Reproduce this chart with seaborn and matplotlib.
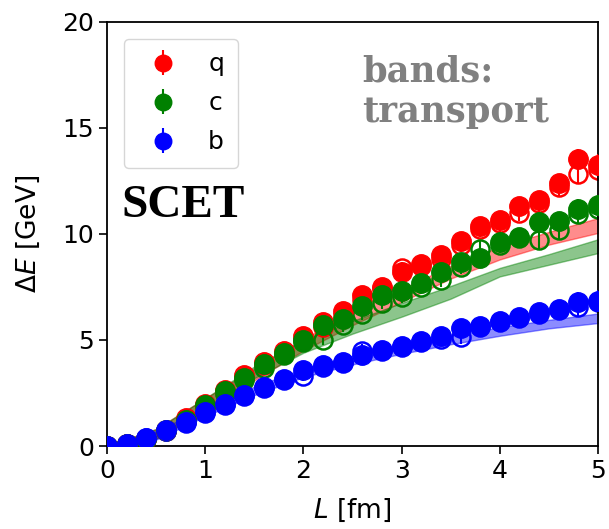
import numpy as np
import pandas as pd
import matplotlib
matplotlib.use("Agg")
import matplotlib.pyplot as plt
import seaborn as sns

# ---- data ----
L = [0.0, 0.2, 0.4, 0.6, 0.8, 1.0, 1.2, 1.4, 1.6, 1.8, 2.0, 2.2, 2.4,
     2.6, 2.8, 3.0, 3.2, 3.4, 3.6, 3.8, 4.0, 4.2, 4.4, 4.6, 4.8, 5.0]

q_scet = [0.0, 0.1, 0.35, 0.75, 1.3, 2.0, 2.65, 3.35, 3.95, 4.5, 5.2, 5.85, 6.35,
          7.1, 7.5, 8.2, 8.6, 9.0, 9.65, 10.4, 10.65, 11.3, 11.6, 12.4, 13.55, 13.25]
c_scet = [0.0, 0.1, 0.35, 0.75, 1.25, 1.95, 2.6, 3.2, 3.85, 4.4, 5.0, 5.7, 6.0,
          6.6, 7.1, 7.3, 7.7, 8.2, 8.7, 8.85, 9.6, 9.85, 10.55, 10.6, 11.2, 11.35]
b_scet = [0.0, 0.1, 0.4, 0.75, 1.15, 1.6, 2.0, 2.4, 2.8, 3.15, 3.6, 3.8, 3.95,
          4.3, 4.55, 4.7, 4.95, 5.2, 5.55, 5.65, 5.9, 6.1, 6.3, 6.45, 6.8, 6.85]

q_alt = [0.0, 0.1, 0.35, 0.7, 1.2, 1.85, 2.5, 3.2, 3.8, 4.35, 5.0, 5.6, 6.2,
         6.9, 7.4, 8.4, 8.5, 8.8, 9.5, 10.25, 10.5, 11.0, 11.45, 12.2, 12.85, 13.0]
c_alt = [0.0, 0.1, 0.35, 0.7, 1.2, 1.85, 2.45, 3.1, 3.7, 4.3, 4.9, 5.0, 5.7,
         6.25, 6.75, 7.05, 7.5, 7.85, 8.45, 9.3, 9.5, 9.8, 9.7, 10.2, 10.95, 11.2]
b_alt = [0.0, 0.1, 0.4, 0.7, 1.1, 1.55, 1.95, 2.35, 2.75, 3.1, 3.3, 3.75, 3.9,
         4.5, 4.5, 4.65, 4.9, 5.05, 5.15, 5.6, 5.85, 6.05, 6.25, 6.4, 6.55, 6.8]

err = [0.05, 0.05, 0.1, 0.1, 0.15, 0.15, 0.2, 0.2, 0.2, 0.25, 0.25, 0.25, 0.3,
       0.3, 0.3, 0.3, 0.35, 0.35, 0.35, 0.4, 0.4, 0.4, 0.45, 0.45, 0.45, 0.5]

L_band = [0.0, 0.5, 1.0, 1.5, 2.0, 2.5, 3.0, 3.5, 4.0, 4.5, 5.0]
q_band_lo = [0.0, 0.35, 1.7, 3.1, 4.5, 5.7, 6.8, 7.9, 8.8, 9.5, 10.05]
q_band_hi = [0.0, 0.8, 2.25, 3.65, 5.05, 6.3, 7.4, 8.5, 9.4, 10.1, 10.75]
c_band_lo = [0.0, 0.35, 1.75, 3.2, 4.4, 5.3, 6.1, 6.95, 8.0, 8.55, 9.1]
c_band_hi = [0.0, 0.8, 2.25, 3.75, 5.0, 5.9, 6.75, 7.55, 8.4, 9.05, 9.75]
b_band_lo = [0.0, 0.3, 1.4, 2.4, 3.25, 3.85, 4.35, 4.8, 5.2, 5.55, 5.8]
b_band_hi = [0.0, 0.7, 1.8, 2.8, 3.65, 4.25, 4.75, 5.2, 5.6, 5.95, 6.25]

labels = ["q", "c", "b"]
colors = ["red", "green", "blue"]

# ---- plotting ----
sns.set_style("ticks")
plt.rcParams["font.family"] = ["DejaVu Sans"]
plt.rcParams["text.color"] = "black"
plt.rcParams["axes.labelcolor"] = "black"
plt.rcParams["xtick.color"] = "black"
plt.rcParams["ytick.color"] = "black"

fig = plt.figure(figsize=(6.09, 5.29), dpi=100)
ax = fig.add_axes([107 / 609, 1 - 446 / 529, (598 - 107) / 609, (446 - 22) / 529])

bands = [(q_band_lo, q_band_hi), (c_band_lo, c_band_hi), (b_band_lo, b_band_hi)]
for (lo, hi), col in zip(bands, colors):
    ax.fill_between(L_band, lo, hi, color=col, alpha=0.45, lw=1.0, zorder=1)

for vals, col in zip([q_alt, c_alt, b_alt], colors):
    ax.errorbar(L, vals, yerr=err, fmt="o", ms=13, mfc="none", mec=col,
                mew=1.8, color=col, elinewidth=1.5, zorder=2)

for vals, col, lab in zip([q_scet, c_scet, b_scet], colors, labels):
    ax.errorbar(L, vals, yerr=err, fmt="o", ms=14, color=col,
                elinewidth=1.5, label=lab, zorder=3)

ax.set_xlim(0, 5)
ax.set_ylim(0, 20)
ax.set_xticks([0, 1, 2, 3, 4, 5])
ax.set_yticks([0, 5, 10, 15, 20])
ax.tick_params(labelsize=18, length=6, width=1.2, color="black", labelcolor="black")
for s in ax.spines.values():
    s.set_color("black")
    s.set_linewidth(1.3)
ax.set_xlabel("$L$ [fm]", fontsize=19, labelpad=10)
ax.set_ylabel(r"$\Delta E$ [GeV]", fontsize=19, labelpad=14)

leg = ax.legend(loc="upper left", fontsize=18, frameon=True, handletextpad=0.8,
                borderpad=0.55, labelspacing=0.6, markerscale=0.85,
                bbox_to_anchor=(0.01, 0.99))
leg.get_frame().set_edgecolor("#cccccc")

ax.text(0.15, 10.8, "SCET", fontsize=34, fontweight="bold",
        family=["Liberation Serif", "DejaVu Serif"], color="black",
        ha="left", va="baseline")
ax.text(2.6, 17.2, "bands:", fontsize=25.5, fontweight="bold",
        family=["DejaVu Serif"], color="gray", ha="left", va="baseline")
ax.text(2.6, 15.3, "transport", fontsize=25.5, fontweight="bold",
        family=["DejaVu Serif"], color="gray", ha="left", va="baseline")

fig.savefig("out.png", dpi=100, facecolor="white")
